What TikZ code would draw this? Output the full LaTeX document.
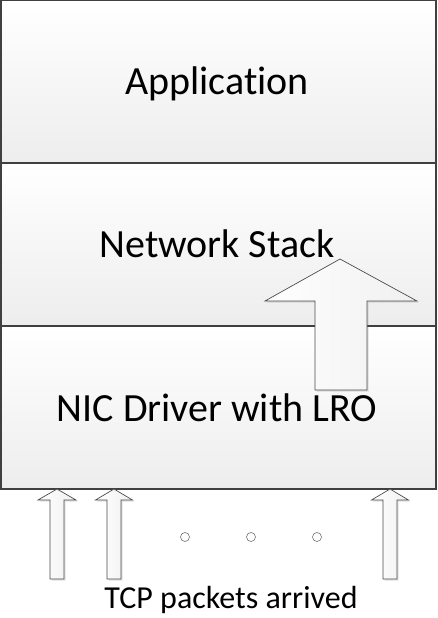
\documentclass[tikz,border=0pt]{standalone}
\usepackage{fontspec}
\setmainfont[Ligatures=NoCommon]{Carlito}
\usetikzlibrary{shadows}
\begin{document}
\begin{tikzpicture}[x=1pt,y=-1pt,
  layer/.style={draw=black!75,line width=1.3pt,top color=white,bottom color=black!7,minimum width=435pt,minimum height=163pt,inner sep=0pt},
  lbl/.style={font=\fontsize{40}{44}\selectfont,anchor=base},
  blockarrow/.style={draw=black!70,line width=0.7pt,left color=white,right color=black!6,
     drop shadow={shadow xshift=1.5pt,shadow yshift=-1.5pt,opacity=0.2,fill=black!60}},
  dot/.style={circle,draw=black!55,fill=white,line width=0.6pt,minimum size=9pt,inner sep=0pt}]
\useasboundingbox (0,0) rectangle (438,618);
\node[layer] (app) at (218.5,81.5) {};
\node[layer] (net) at (218.5,244.5) {};
\node[layer] (nic) at (218.5,407.5) {};
\node[lbl] (tapp) at (217,94) {Application};
\node[lbl] (tnet) at (217,257) {Network Stack};
\node[lbl] (tnic) at (217,421) {NIC Driver with LRO};
% big arrow
\path[blockarrow] (340,259) -- (417,301) -- (367,301) -- (367,390) -- (315,390) -- (315,301) -- (265,301) -- cycle;
% small arrows
\foreach \t/\w/\s in {57/19/7,114/18.5/7,390/18.5/7}{
  \path[blockarrow] (\t,489) -- (\t+\w,500) -- (\t+\s,500) -- (\t+\s,579) -- (\t-\s,579) -- (\t-\s,500) -- (\t-\w,500) -- cycle;
}
\node[dot] (d1) at (185,537) {};
\node[dot] (d2) at (251,537) {};
\node[dot] (d3) at (317,537) {};
\node[font=\fontsize{32}{35}\selectfont,anchor=base] (tcp) at (231,608) {TCP packets arrived};
\end{tikzpicture}
\end{document}
